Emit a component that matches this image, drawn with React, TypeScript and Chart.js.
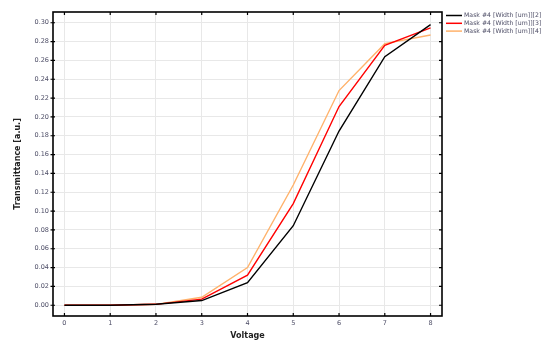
import React, { useEffect, useRef } from "react";
import { Chart, registerables } from "chart.js";

Chart.register(...registerables);

const voltages = [0, 1, 2, 3, 4, 5, 6, 7, 8];
const seriesLabels = [
  "Mask #4 [Width [um]][2]",
  "Mask #4 [Width [um]][3]",
  "Mask #4 [Width [um]][4]",
];
const width2 = [0, 0, 0.001, 0.005, 0.024, 0.0845, 0.185, 0.264, 0.298];
const width3 = [0, 0, 0.001, 0.0065, 0.032, 0.108, 0.211, 0.276, 0.2945];
const width4 = [0, 0, 0.001, 0.0085, 0.040, 0.1277, 0.228, 0.2778, 0.287];
const seriesColors = ["#000000", "#ff0000", "#ffb26b"];
const xTitle = "Voltage";
const yTitle = "Transmittance [a.u.]";

const FONT = "'DejaVu Sans', Verdana, sans-serif";
const TICK_COLOR = "#4d4d66";

const framePlugin = {
  id: "frameTicks",
  afterDraw(chart: any) {
    const { ctx, chartArea } = chart;
    const { left, right, top, bottom } = chartArea;
    const xs = chart.scales.x;
    const ys = chart.scales.y;
    ctx.save();
    ctx.strokeStyle = "#000";
    ctx.lineWidth = 1.2;
    ctx.beginPath();
    xs.ticks.forEach((t: any) => {
      const px = xs.getPixelForValue(t.value);
      ctx.moveTo(px, top);
      ctx.lineTo(px, top + 3);
      ctx.moveTo(px, bottom);
      ctx.lineTo(px, bottom - 3);
    });
    ys.ticks.forEach((t: any) => {
      const py = ys.getPixelForValue(t.value);
      ctx.moveTo(left - 2.5, py);
      ctx.lineTo(left + 2, py);
      ctx.moveTo(right, py);
      ctx.lineTo(right - 3, py);
    });
    ctx.stroke();
    ctx.lineWidth = 1.6;
    ctx.strokeRect(left, top, right - left, bottom - top);
    // legend
    ctx.font = `6.2px ${FONT}`;
    ctx.textBaseline = "middle";
    ctx.textAlign = "left";
    chart.data.datasets.forEach((ds: any, i: number) => {
      const y = top + 3.5 + i * 7.8;
      ctx.strokeStyle = ds.borderColor;
      ctx.lineWidth = 1.5;
      ctx.beginPath();
      ctx.moveTo(right + 4, y);
      ctx.lineTo(right + 20, y);
      ctx.stroke();
      ctx.fillStyle = TICK_COLOR;
      ctx.fillText(ds.label, right + 22, y);
    });
    ctx.restore();
  },
};

export default function App() {
  const ref = useRef<HTMLCanvasElement>(null);
  useEffect(() => {
    if (!ref.current) return;
    const seriesValues = [width2, width3, width4];
    const chart = new Chart(ref.current, {
      type: "line",
      data: {
        datasets: seriesValues.map((vals, i) => ({
          label: seriesLabels[i],
          data: vals.map((v, j) => ({ x: voltages[j], y: v })),
          borderColor: seriesColors[i],
          backgroundColor: seriesColors[i],
          borderWidth: 1.4,
          pointRadius: 0,
          tension: 0,
        })),
      },
      options: {
        animation: false,
        responsive: false,
        maintainAspectRatio: false,
        layout: { padding: { top: 12, right: 112, left: 0, bottom: 0 } },
        plugins: { legend: { display: false }, tooltip: { enabled: false } },
        scales: {
          x: {
            type: "linear",
            min: -0.25,
            max: 8.25,
            afterFit: (s: any) => {
              s.height = 31;
            },
            ticks: {
              stepSize: 1,
              includeBounds: false,
              padding: 3,
              font: { family: FONT, size: 6.5 },
              color: TICK_COLOR,
              maxRotation: 0,
            },
            grid: { color: "#e8e8e8", lineWidth: 1, drawTicks: false },
            border: { display: false },
            title: {
              display: true,
              text: xTitle,
              color: "#222",
              font: { family: FONT, size: 8, weight: "bold" },
              padding: { top: 0, bottom: 6 },
            },
          },
          y: {
            type: "linear",
            min: -0.0114,
            max: 0.3114,
            afterFit: (s: any) => {
              s.width = 53;
            },
            ticks: {
              stepSize: 0.02,
              includeBounds: false,
              padding: 4,
              font: { family: FONT, size: 6.5 },
              color: TICK_COLOR,
              callback: (v: any) => Number(v).toFixed(2),
            },
            grid: { color: "#e8e8e8", lineWidth: 1, drawTicks: false },
            border: { display: false },
            title: {
              display: true,
              text: yTitle,
              color: "#222",
              font: { family: FONT, size: 8, weight: "bold" },
              padding: { top: 13, bottom: 0 },
            },
          },
        },
      },
      plugins: [framePlugin],
    });
    return () => chart.destroy();
  }, []);
  return (
    <div style={{ position: "absolute", left: 0, top: 0, width: 554, height: 347, background: "#fff" }}>
      <canvas ref={ref} width={554} height={347} style={{ width: 554, height: 347 }} />
    </div>
  );
}
